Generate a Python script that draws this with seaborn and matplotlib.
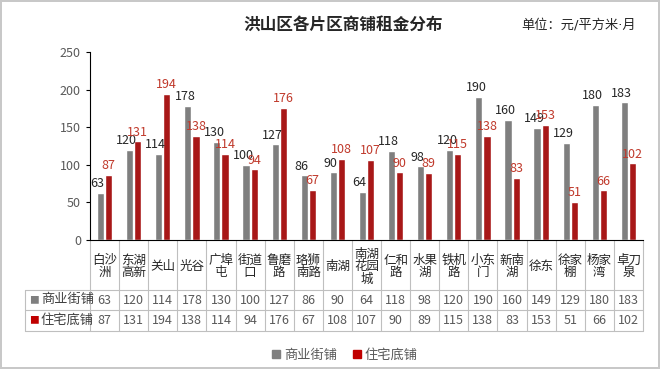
import seaborn as sns
import matplotlib.pyplot as plt
import matplotlib.transforms as mtransforms
from matplotlib.patches import Patch
import pandas as pd

districts = ['白沙洲', '东湖高新', '关山', '光谷', '广埠屯', '街道口', '鲁磨路', '珞狮南路',
             '南湖', '南湖花园城', '仁和路', '水果湖', '铁机路', '小东门', '新南湖', '徐东',
             '徐家棚', '杨家湾', '卓刀泉']
shop = [63, 120, 114, 178, 130, 100, 127, 86, 90, 64, 118, 98, 120, 190, 160, 149, 129, 180, 183]
home = [87, 131, 194, 138, 114, 94, 176, 67, 108, 107, 90, 89, 115, 138, 83, 153, 51, 66, 102]
series = ['商业街铺', '住宅底铺']
colors = ['#7F7F7F', '#C00000']
label_colors = ['#262626', '#C0392B']

sns.set_style('white')
plt.rcParams['font.family'] = ['Noto Sans CJK SC', 'DejaVu Sans']

df = pd.DataFrame({
    '片区': districts * 2,
    '租金': shop + home,
    '类型': [series[0]] * len(districts) + [series[1]] * len(districts),
})

fig = plt.figure(figsize=(6.6, 3.69), dpi=100)
fig.patch.set_edgecolor('#C8C8C8')
fig.patch.set_linewidth(1.5)
ax = fig.add_axes([90 / 660, 1 - 240 / 369, 553 / 660, 188 / 369])

sns.barplot(data=df, x='片区', y='租金', hue='类型', palette=colors, width=0.56, gap=0.12,
            legend=False, ax=ax)
for k, (cont, c) in enumerate(zip(ax.containers, label_colors)):
    anns = ax.bar_label(cont, padding=2, color=c, fontsize=9)
    if k == 0:
        # excel puts the grey labels a little to the left
        for a in anns:
            a.xyann = (-2, 2)

n = len(districts)
ax.set_ylim(0, 250)
ax.set_yticks(range(0, 251, 50))
ax.tick_params(axis='y', labelsize=9, labelcolor='#595959', left=True, length=3, color='black')
ax.set_xticks([])
ax.set_xlabel('')
ax.set_ylabel('')
for s in ['top', 'right']:
    ax.spines[s].set_visible(False)
for s in ['left', 'bottom']:
    ax.spines[s].set_color('black')
    ax.spines[s].set_linewidth(0.8)


# table under the axes
def wrap(name):
    if len(name) <= 2:
        return name
    return '\n'.join(name[k:k + 2] for k in range(0, len(name), 2))


trans = mtransforms.blended_transform_factory(ax.transData, ax.transAxes)


def ya(px):
    return (240 - px) / 188


grid = '#BFBFBF'
xl = -0.5 - 65 / (553 / n)
for y in [290, 310, 331]:
    ax.plot([xl, n - 0.5], [ya(y), ya(y)], color=grid, lw=0.8, transform=trans, clip_on=False)
for i in range(-1, n):
    ax.plot([i + 0.5, i + 0.5], [0, ya(331)], color=grid, lw=0.8, transform=trans, clip_on=False)
ax.plot([xl, xl], [ya(290), ya(331)], color=grid, lw=0.8, transform=trans, clip_on=False)

for i, name in enumerate(districts):
    ax.text(i, ya(266.5), wrap(name), ha='center', va='center', fontsize=9, color='#262626',
            linespacing=0.95, transform=trans, clip_on=False)
    ax.text(i, ya(300), str(shop[i]), ha='center', va='center', fontsize=9, color='#595959',
            transform=trans, clip_on=False)
    ax.text(i, ya(320.5), str(home[i]), ha='center', va='center', fontsize=9, color='#595959',
            transform=trans, clip_on=False)

for yy, lab, c in zip([300, 320.5], series, colors):
    ax.text(xl + 0.3, ya(yy), '■', ha='center', va='center', fontsize=7, color=c,
            transform=trans, clip_on=False)
    ax.text(xl + 0.55, ya(yy), lab, ha='left', va='center', fontsize=9.5, color='#404040',
            transform=trans, clip_on=False)

ax.set_xlim(-0.5, n - 0.5)

fig.text(343 / 660, 1 - 25 / 369, '洪山区各片区商铺租金分布', ha='center', va='center',
         fontsize=12, fontweight='bold', color='#262626')
fig.text(636 / 660, 1 - 25 / 369, '单位：元/平方米·月', ha='right', va='center',
         fontsize=9.5, color='#262626', family=['DejaVu Sans', 'Noto Sans CJK SC'])

handles = [Patch(color=c, label=s) for c, s in zip(colors, series)]
fig.legend(handles=handles, loc='center', bbox_to_anchor=(345 / 660, 1 - 355 / 369), ncol=2,
           frameon=False, fontsize=9.5, labelcolor='#595959', handlelength=0.6,
           handleheight=0.6, handletextpad=0.3, columnspacing=1.2)

fig.savefig('out.png', dpi=100, edgecolor=fig.get_edgecolor())
